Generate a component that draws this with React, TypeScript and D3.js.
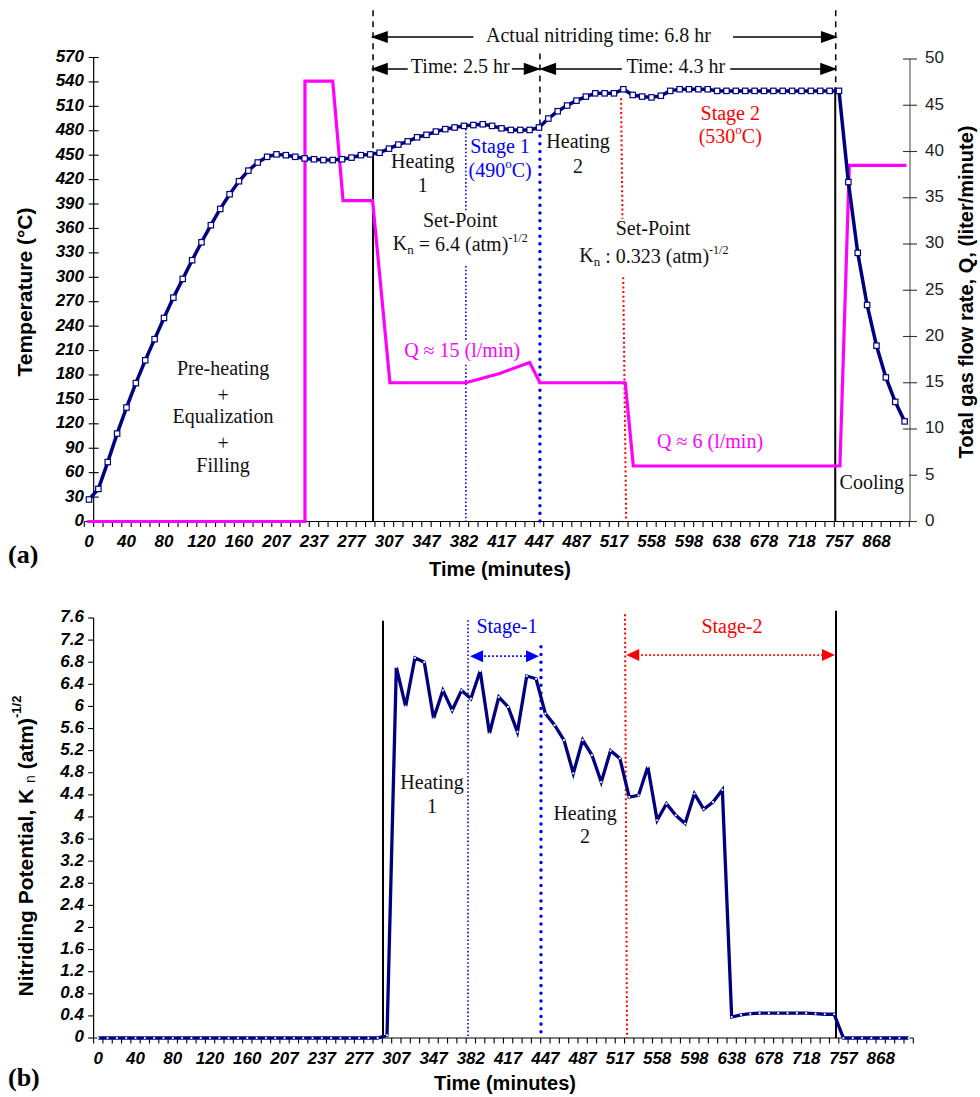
import React from "react";
import * as d3 from "d3";

// ---------- data ----------
const timeLabels = ["0","40","80","120","160","207","237","277","307","347","382","417","447","487","517","558","598","638","678","718","757","868"];

const temperature = [
  27, 40, 73, 108, 140, 170, 198, 224, 250, 275,
  298, 321, 343, 364, 384, 402, 418, 431, 441, 448,
  451, 450, 448, 446, 445, 444, 444, 445, 447, 450,
  451, 453, 458, 463, 467, 472, 475, 479, 482, 484,
  486, 487, 488, 486, 483, 481, 481, 481, 484, 495,
  504, 511, 517, 522, 526, 526, 526, 531, 524, 522,
  521, 523, 529, 531, 531, 531, 531, 529, 529, 529,
  529, 529, 529, 529, 529, 529, 529, 529, 529, 529,
  529, 417, 330, 266, 216, 177, 147, 123
];

const kn = [
  0, 0, 0, 0, 0, 0, 0, 0, 0, 0,
  0, 0, 0, 0, 0, 0, 0, 0, 0, 0,
  0, 0, 0, 0, 0, 0, 0, 0, 0, 0,
  0, 0.05,
  6.71, 6.0, 6.88, 6.8, 5.78, 6.29, 5.93, 6.29, 6.14, 6.64,
  5.51, 6.17, 5.99, 5.54, 6.55, 6.5, 5.87, 5.66, 5.39, 4.79,
  5.39, 5.12, 4.63, 5.2, 5.06, 4.36, 4.39, 4.91, 3.94, 4.24,
  4.03, 3.88, 4.42, 4.14, 4.27, 4.49,
  0.38, 0.42, 0.44, 0.45, 0.45, 0.45, 0.45, 0.45, 0.45, 0.44, 0.43, 0.43,
  0, 0, 0, 0, 0, 0, 0, 0
];

// gas flow: category positions (fractional) and values
const flowPos = [0.3, 23.54, 23.54, 26.5, 27.6, 30.75, 32.6, 40.7, 44.3, 47.5, 48.6, 57.7, 58.56, 80.6, 81.6, 87.7];
const flowRate = [0, 0, 47.6, 47.6, 34.7, 34.7, 15, 15, 16, 17.2, 15, 15, 6, 6, 38.5, 38.5];

const tempTicks = [0, 30, 60, 90, 120, 150, 180, 210, 240, 270, 300, 330, 360, 390, 420, 450, 480, 510, 540, 570];
const flowTicks = [0, 5, 10, 15, 20, 25, 30, 35, 40, 45, 50];
const knTicks = ["0", "0.4", "0.8", "1.2", "1.6", "2", "2.4", "2.8", "3.2", "3.6", "4", "4.4", "4.8", "5.2", "5.6", "6", "6.4", "6.8", "7.2", "7.6"];

const N_CAT = 88;

// ---------- styles ----------
const SANS = "'Liberation Sans', Arial, Helvetica, sans-serif";
const SERIF = "'Liberation Serif', 'Times New Roman', serif";
const NAVY = "#000080";
const MAG = "#FF00FF";
const BLUE = "#0000FF";
const RED = "#FF0000";

function ArrowHead({ x, y, dir, color, len = 14, hw = 5 }: any) {
  const pts = dir < 0
    ? `${x},${y} ${x + len},${y - hw} ${x + len},${y + hw}`
    : `${x},${y} ${x - len},${y - hw} ${x - len},${y + hw}`;
  return <polygon points={pts} fill={color} />;
}

function STxt({ x, y, children, color = "#111", size = 20, anchor = "middle" }: any) {
  return (
    <text x={x} y={y} fill={color} fontSize={size} fontFamily={SERIF} textAnchor={anchor} dominantBaseline="middle">
      {children}
    </text>
  );
}

function TopChart() {
  const x = d3.scaleLinear().domain([0, N_CAT]).range([84.3, 909.3]);
  const y = d3.scaleLinear().domain([0, 570]).range([521.5, 57.5]);
  const yq = d3.scaleLinear().domain([0, 50]).range([521.5, 59]);
  const tempLine = d3.line<number>().x((_, i) => x(i + 0.5)).y((d) => y(d));
  const qLine = d3.line<number>().x((_, i) => x(flowPos[i])).y((d) => yq(d));
  const yAxisX = x(1);
  const rightX = 910;
  const base = y(0);

  const redX = (t: number) => x(57.8 + (57.25 - 57.8) * (t / 520));

  return (
    <g>
      {/* x axis */}
      <line x1={x(0)} x2={x(N_CAT)} y1={base} y2={base} stroke="#000" strokeWidth={1.2} />
      {d3.range(0, N_CAT + 1).map((i) => (
        <line key={"xt" + i} x1={x(i)} x2={x(i)} y1={base} y2={base + 5.5} stroke="#000" strokeWidth={1.1} />
      ))}
      {timeLabels.map((l, i) => (
        <text key={"xl" + i} x={x(i * 4 + 0.5)} y={543} fontFamily={SANS} fontSize={17} fontWeight="bold" fontStyle="italic" textAnchor="middle" dominantBaseline="middle">{l}</text>
      ))}
      <text x={500} y={571} fontFamily={SANS} fontSize={20} fontWeight="bold" textAnchor="middle" dominantBaseline="middle">Time (minutes)</text>

      {/* left axis */}
      <line x1={yAxisX} x2={yAxisX} y1={y(570)} y2={base} stroke="#000" strokeWidth={1.2} />
      {tempTicks.map((t) => (
        <g key={"yt" + t}>
          <line x1={yAxisX - 5} x2={yAxisX + 5} y1={y(t)} y2={y(t)} stroke="#000" strokeWidth={1.1} />
          <text x={84} y={y(t)} fontFamily={SANS} fontSize={17} fontWeight="bold" fontStyle="italic" textAnchor="end" dominantBaseline="middle">{t}</text>
        </g>
      ))}
      <text transform={`translate(26,292) rotate(-90)`} fontFamily={SANS} fontSize={21} fontWeight="bold" textAnchor="middle" dominantBaseline="middle">Temperature (°C)</text>

      {/* right axis */}
      <line x1={rightX} x2={rightX} y1={yq(50)} y2={base} stroke="#808080" strokeWidth={1.5} />
      {flowTicks.map((t) => (
        <g key={"rt" + t}>
          <line x1={rightX - 7} x2={rightX + 7} y1={yq(t)} y2={yq(t)} stroke="#333" strokeWidth={1.1} />
          <text x={925} y={yq(t)} fontFamily={SANS} fontSize={17} fill="#222" textAnchor="start" dominantBaseline="middle">{t}</text>
        </g>
      ))}
      <text transform={`translate(968,292) rotate(-90)`} fontFamily={SANS} fontSize={20} fontWeight="bold" textAnchor="middle" dominantBaseline="middle">Total gas flow rate, Q, (liter/minute)</text>

      {/* vertical annotation lines */}
      <line x1={x(30.8)} x2={x(30.8)} y1={y(628)} y2={y(452)} stroke="#000" strokeWidth={1.5} strokeDasharray="6,5" />
      <line x1={x(48.6)} x2={x(48.6)} y1={y(575)} y2={y(487)} stroke="#000" strokeWidth={1.5} strokeDasharray="6,5" />
      <line x1={x(80.15)} x2={x(80.15)} y1={y(628)} y2={y(533.5)} stroke="#000" strokeWidth={1.5} strokeDasharray="6,5" />
      <line x1={x(30.8)} x2={x(30.8)} y1={y(452)} y2={base} stroke="#000" strokeWidth={2} />
      <line x1={x(80.1)} x2={x(80.1)} y1={y(533.5)} y2={base} stroke="#000" strokeWidth={2} />
      <line x1={x(40.7)} x2={x(40.7)} y1={y(487)} y2={y(382)} stroke={BLUE} strokeWidth={1.6} strokeDasharray="1.6,2.2" />
      <line x1={x(40.7)} x2={x(40.7)} y1={y(314)} y2={base} stroke={BLUE} strokeWidth={1.6} strokeDasharray="1.6,2.2" />
      <line x1={x(48.6)} x2={x(48.6)} y1={y(483)} y2={base} stroke={BLUE} strokeWidth={3.4} strokeDasharray="0.1,7.6" strokeLinecap="round" />
      <line x1={redX(520)} x2={redX(372)} y1={y(520)} y2={y(372)} stroke={RED} strokeWidth={2} strokeDasharray="2,2.6" />
      <line x1={redX(300)} x2={redX(0)} y1={y(300)} y2={base} stroke={RED} strokeWidth={2} strokeDasharray="2,2.6" />

      {/* arrows */}
      {(() => {
        const ya = y(595.2);
        const yb = y(556);
        return (
          <g stroke="#000" strokeWidth={1.5}>
            <line x1={x(30.8)} x2={x(41.5)} y1={ya} y2={ya} />
            <line x1={x(69.2)} x2={x(80.15)} y1={ya} y2={ya} />
            <ArrowHead x={x(30.8)} y={ya} dir={-1} color="#000" />
            <ArrowHead x={x(80.15)} y={ya} dir={1} color="#000" />
            <line x1={x(30.8)} x2={x(34.5)} y1={yb} y2={yb} />
            <line x1={x(45.6)} x2={x(48.45)} y1={yb} y2={yb} />
            <ArrowHead x={x(30.8)} y={yb} dir={-1} color="#000" />
            <ArrowHead x={x(48.45)} y={yb} dir={1} color="#000" />
            <line x1={x(48.75)} x2={x(57.35)} y1={yb} y2={yb} />
            <line x1={x(68.9)} x2={x(80.07)} y1={yb} y2={yb} />
            <ArrowHead x={x(48.75)} y={yb} dir={-1} color="#000" />
            <ArrowHead x={x(80.07)} y={yb} dir={1} color="#000" />
          </g>
        );
      })()}
      <STxt x={x(54.85)} y={y(595.2)}>Actual nitriding time: 6.8 hr</STxt>
      <STxt x={x(40.1)} y={y(556)}>Time: 2.5 hr</STxt>
      <STxt x={x(63.1)} y={y(556.8)}>Time: 4.3 hr</STxt>

      {/* gas flow */}
      <path d={qLine(flowRate) || ""} fill="none" stroke={MAG} strokeWidth={3.2} strokeLinejoin="miter" />

      {/* temperature */}
      <path d={tempLine(temperature) || ""} fill="none" stroke={NAVY} strokeWidth={3.5} strokeLinejoin="round" />
      {temperature.map((t, i) => (
        <rect key={"m" + i} x={x(i + 0.5) - 2.7} y={y(t) - 2.7} width={5.4} height={5.4} fill="#fff" stroke={NAVY} strokeWidth={1.2} />
      ))}

      {/* text annotations */}
      <STxt x={x(36.1)} y={y(440.4)}>Heating</STxt>
      <STxt x={x(36.1)} y={y(410.9)}>1</STxt>
      <STxt x={x(44.35)} y={y(458.9)} color={BLUE}>Stage 1</STxt>
      <text x={x(44.35)} y={y(429.4)} fill={BLUE} fontSize={20} fontFamily={SERIF} textAnchor="middle" dominantBaseline="middle">
        (490<tspan fontSize={13} dy={-7}>o</tspan><tspan dy={7}>C)</tspan>
      </text>
      <STxt x={x(52.66)} y={y(464.9)}>Heating</STxt>
      <STxt x={x(52.66)} y={y(434.2)}>2</STxt>
      <STxt x={x(68.9)} y={y(499.4)} color={RED}>Stage 2</STxt>
      <text x={x(68.9)} y={y(471.1)} fill={RED} fontSize={20} fontFamily={SERIF} textAnchor="middle" dominantBaseline="middle">
        (530<tspan fontSize={13} dy={-7}>o</tspan><tspan dy={7}>C)</tspan>
      </text>
      <STxt x={x(40.1)} y={y(368)}>Set-Point</STxt>
      <text x={x(40.1)} y={y(339)} fill="#111" fontSize={20} fontFamily={SERIF} textAnchor="middle" dominantBaseline="middle">
        K<tspan fontSize={13} dy={5}>n</tspan><tspan dy={-5}> = 6.4 (atm)</tspan><tspan fontSize={12} dy={-7}>-1/2</tspan>
      </text>
      <STxt x={x(60.66)} y={y(358)}>Set-Point</STxt>
      <text x={x(60.75)} y={y(324)} fill="#111" fontSize={20} fontFamily={SERIF} textAnchor="middle" dominantBaseline="middle">
        K<tspan fontSize={13} dy={5}>n</tspan><tspan dy={-5}> : 0.323 (atm)</tspan><tspan fontSize={12} dy={-7}>-1/2</tspan>
      </text>
      <STxt x={x(14.8)} y={y(186)}>Pre-heating</STxt>
      <STxt x={x(14.8)} y={y(153)}>+</STxt>
      <STxt x={x(14.8)} y={y(127)}>Equalization</STxt>
      <STxt x={x(14.8)} y={y(94)}>+</STxt>
      <STxt x={x(14.8)} y={y(67)}>Filling</STxt>
      <rect x={x(40.7) - 4} y={yq(18.3) - 11} width={8} height={22} fill="#fff" />
      <STxt x={x(40.3)} y={yq(18.3)} color={MAG}>Q ≈ 15 (l/min)</STxt>
      <STxt x={x(66.75)} y={yq(8.4)} color={MAG}>Q ≈ 6 (l/min)</STxt>
      <rect x={x(80.3)} y={yq(5.4)} width={72} height={25} fill="#fff" />
      <STxt x={x(84.0)} y={yq(4)}>Cooling</STxt>

      <text x={8} y={557} fontFamily={SERIF} fontSize={26} fontWeight="bold" dominantBaseline="middle">(a)</text>
    </g>
  );
}

function BottomChart() {
  const x = d3.scaleLinear().domain([0, N_CAT]).range([93.6, 913.3]);
  const y = d3.scaleLinear().domain([0, 7.6]).range([1038, 618]);
  const line = d3.line<number>().x((_, i) => x(i + 0.5)).y((d) => y(d));
  const base = y(0);
  const redX = (k: number) => x(57.26 + (57.05 - 57.26) * (k / 7.67));
  const ys1 = y(6.91);
  const ys2 = y(6.93);
  return (
    <g>
      <line x1={x(0)} x2={x(N_CAT)} y1={base} y2={base} stroke="#000" strokeWidth={1.2} />
      {d3.range(0, N_CAT + 1).map((i) => (
        <line key={"bt" + i} x1={x(i)} x2={x(i)} y1={base} y2={base + 5.5} stroke="#000" strokeWidth={1.1} />
      ))}
      {timeLabels.map((l, i) => (
        <text key={"bl" + i} x={x(i * 4 + 0.5)} y={1060} fontFamily={SANS} fontSize={17} fontWeight="bold" fontStyle="italic" textAnchor="middle" dominantBaseline="middle">{l}</text>
      ))}
      <text x={505} y={1085} fontFamily={SANS} fontSize={20} fontWeight="bold" textAnchor="middle" dominantBaseline="middle">Time (minutes)</text>

      <line x1={x(0)} x2={x(0)} y1={y(7.6)} y2={base} stroke="#000" strokeWidth={1.2} />
      {knTicks.map((l, i) => (
        <g key={"kt" + i}>
          <line x1={x(0) - 5.5} x2={x(0)} y1={y(i * 0.4)} y2={y(i * 0.4)} stroke="#000" strokeWidth={1.1} />
          <text x={84} y={y(i * 0.4)} fontFamily={SANS} fontSize={17} fontWeight="bold" fontStyle="italic" textAnchor="end" dominantBaseline="middle">{l}</text>
        </g>
      ))}
      <text transform={`translate(27,846) rotate(-90)`} fontFamily={SANS} fontSize={21} fontWeight="bold" textAnchor="middle" dominantBaseline="middle">
        Nitriding Potential, K <tspan fontSize={14} fontWeight="normal" dy={4}>n</tspan><tspan dy={-4}>  (atm)</tspan><tspan fontSize={13} dy={-9}>-1/2</tspan>
      </text>

      {/* vertical lines */}
      <line x1={x(31.07)} x2={x(31.07)} y1={y(7.55)} y2={base} stroke="#000" strokeWidth={2} />
      <line x1={x(79.7)} x2={x(79.7)} y1={y(7.73)} y2={base} stroke="#000" strokeWidth={2} />
      <line x1={x(40.2)} x2={x(40.2)} y1={y(7.56)} y2={base} stroke={BLUE} strokeWidth={1.6} strokeDasharray="1.6,2.2" />
      <line x1={x(48.03)} x2={x(48.03)} y1={y(7.08)} y2={base} stroke={BLUE} strokeWidth={3.4} strokeDasharray="0.1,7.6" strokeLinecap="round" />
      <line x1={redX(7.67)} x2={redX(0)} y1={y(7.67)} y2={base} stroke={RED} strokeWidth={2} strokeDasharray="2,2.6" />

      {/* stage arrows */}
      <line x1={x(40.2) + 12} x2={x(48.03) - 12} y1={ys1} y2={ys1} stroke={BLUE} strokeWidth={1.8} strokeDasharray="1.8,2.2" />
      <ArrowHead x={x(40.2) + 2} y={ys1} dir={-1} color={BLUE} len={13} hw={6} />
      <ArrowHead x={x(48.03) - 2} y={ys1} dir={1} color={BLUE} len={13} hw={6} />
      <line x1={redX(6.93) + 12} x2={x(79.7) - 12} y1={ys2} y2={ys2} stroke={RED} strokeWidth={1.8} strokeDasharray="1.8,2.2" />
      <ArrowHead x={redX(6.93) + 1} y={ys2} dir={-1} color={RED} len={13} hw={6} />
      <ArrowHead x={x(79.7) - 1} y={ys2} dir={1} color={RED} len={13} hw={6} />
      <STxt x={x(44.38)} y={y(7.42)} color={BLUE}>Stage-1</STxt>
      <STxt x={x(68.53)} y={y(7.42)} color={RED}>Stage-2</STxt>

      <STxt x={x(36.33)} y={y(4.58)}>Heating</STxt>
      <STxt x={x(36.33)} y={y(4.16)}>1</STxt>
      <STxt x={x(52.76)} y={y(4.02)}>Heating</STxt>
      <STxt x={x(52.76)} y={y(3.62)}>2</STxt>

      <path d={line(kn) || ""} fill="none" stroke={NAVY} strokeWidth={3.3} strokeLinejoin="miter" />
      {kn.map((k, i) => (
        <circle key={"kd" + i} cx={x(i + 0.5)} cy={y(k)} r={1.1} fill="#fff" />
      ))}

      <text x={8} y={1080} fontFamily={SERIF} fontSize={26} fontWeight="bold" dominantBaseline="middle">(b)</text>
    </g>
  );
}

export default function App() {
  return (
    <svg width={980} height={1097} viewBox="0 0 980 1097" style={{ position: "absolute", left: 0, top: 0, background: "#fff" }}>
      <rect x={0} y={0} width={980} height={1097} fill="#fff" />
      <TopChart />
      <BottomChart />
    </svg>
  );
}
